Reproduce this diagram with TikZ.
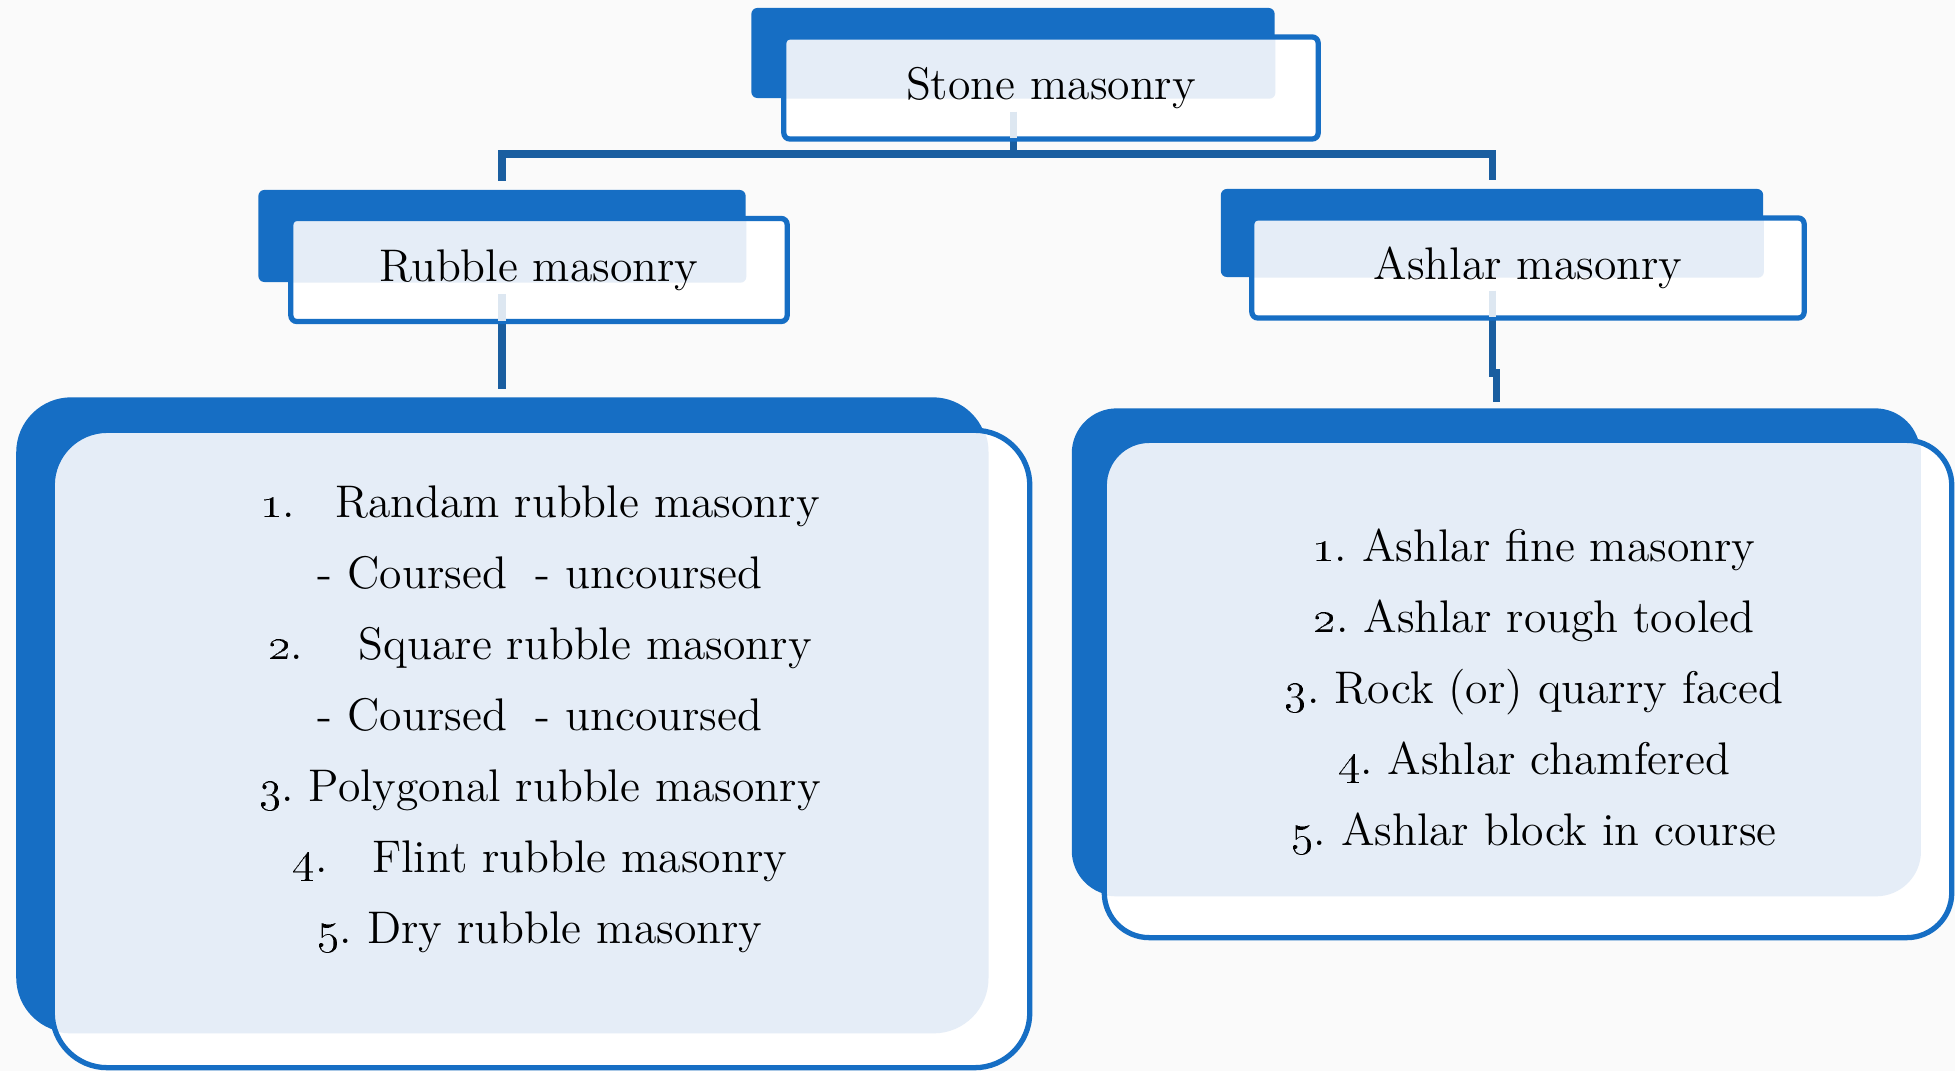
\RequirePackage{fix-cm}
\documentclass[tikz,border=0pt]{standalone}
\usepackage{tikz}
\usetikzlibrary{backgrounds}
\definecolor{boxblue}{RGB}{22,110,196}
\definecolor{linkblue}{RGB}{26,94,160}
\definecolor{paleblue}{RGB}{229,237,247}
\definecolor{pagegrey}{RGB}{250,250,250}
\frenchspacing
\tikzset{
back/.style={fill=boxblue, rounded corners=#1},
back/.default=0.06cm,
front/.style 2 args={draw=boxblue, line width=1.5pt, fill=white, rounded corners=#2,
  path picture={\fill[paleblue, rounded corners=#2] (#1.south west) rectangle (#1.north east);}},
link/.style={draw=linkblue, line width=2pt},
faint/.style={draw=linkblue!15!white, line width=2pt, shorten >=1pt}
}
\begin{document}
\begin{tikzpicture}
[x=0.01cm, y=-0.01cm,
every node/.style={shape=rectangle, inner sep=0pt, align=center, font=\fontsize{13pt}{20.2pt}\selectfont}]
\useasboundingbox (0,0) rectangle (1955,1071);
\node[back, minimum width=5.23cm, minimum height=0.90cm] (stoneback) at (1013,53) {};
\node[front={stoneback}{0.06cm}, minimum width=5.34cm, minimum height=1.02cm] (stone) at (1051,88) {Stone masonry};
\node[back, minimum width=4.87cm, minimum height=0.92cm] (rubbleback) at (502,236) {};
\node[front={rubbleback}{0.06cm}, minimum width=4.96cm, minimum height=1.03cm] (rubble) at (539,270) {Rubble masonry};
\node[back, minimum width=5.42cm, minimum height=0.88cm] (ashlarback) at (1492,233) {};
\node[front={ashlarback}{0.06cm}, minimum width=5.52cm, minimum height=1.00cm] (ashlar) at (1528,268) {Ashlar masonry};
\node[back=0.55cm, minimum width=9.71cm, minimum height=6.35cm] (rubblelistback) at (502,715) {};
\node[front={rubblelistback}{0.55cm}, minimum width=9.77cm, minimum height=6.37cm] (rubblebox) at (541,749) {};
\node[back=0.45cm, minimum width=8.48cm, minimum height=4.87cm] (ashlarlistback) at (1496,652) {};
\node[front={ashlarlistback}{0.45cm}, minimum width=8.47cm, minimum height=4.97cm] (ashlarbox) at (1528,689) {};
\node (rubblelist) at (540,719) {\oldstylenums{1}.\hspace{0.55em} Randam rubble masonry\\
- Coursed\hspace{0.3em} - uncoursed\\
\oldstylenums{2}.\hspace{0.9em} Square rubble masonry\\
- Coursed\hspace{0.3em} - uncoursed\\
\oldstylenums{3}. Polygonal rubble masonry\\
\oldstylenums{4}.\hspace{0.65em} Flint rubble masonry\\
\oldstylenums{5}. Dry rubble masonry};
\node (ashlarlist) at (1534,692) {\oldstylenums{1}. Ashlar fine masonry\\
\oldstylenums{2}. Ashlar rough tooled\\
\oldstylenums{3}. Rock (or) quarry faced\\
\oldstylenums{4}. Ashlar chamfered\\
\oldstylenums{5}. Ashlar block in course};
\coordinate (fork) at (1013,154);
\coordinate (bend) at (1492,373);
\draw[faint] ([yshift=0.3cm]stone.south -| stoneback.center) -- (stone.south -| stoneback.center);
\draw[faint] ([yshift=0.3cm]rubble.south -| rubbleback.center) -- (rubble.south -| rubbleback.center);
\draw[faint] ([yshift=0.3cm]ashlar.south -| ashlarback.center) -- (ashlar.south -| ashlarback.center);
\begin{scope}[on background layer]
\fill[pagegrey] (0,0) rectangle (1955,1071);
\draw[link] (stoneback.center) -- (fork) -| ([yshift=0.08cm]rubbleback.north);
\draw[link] (fork) -| ([yshift=0.08cm]ashlarback.north);
\draw[link] (rubbleback.center) -- ([yshift=0.08cm]rubblelistback.north);
\draw[link] (ashlarback.center) -- (bend) -| ([yshift=0.06cm]ashlarlistback.north);
\end{scope}
\end{tikzpicture}
\end{document}
